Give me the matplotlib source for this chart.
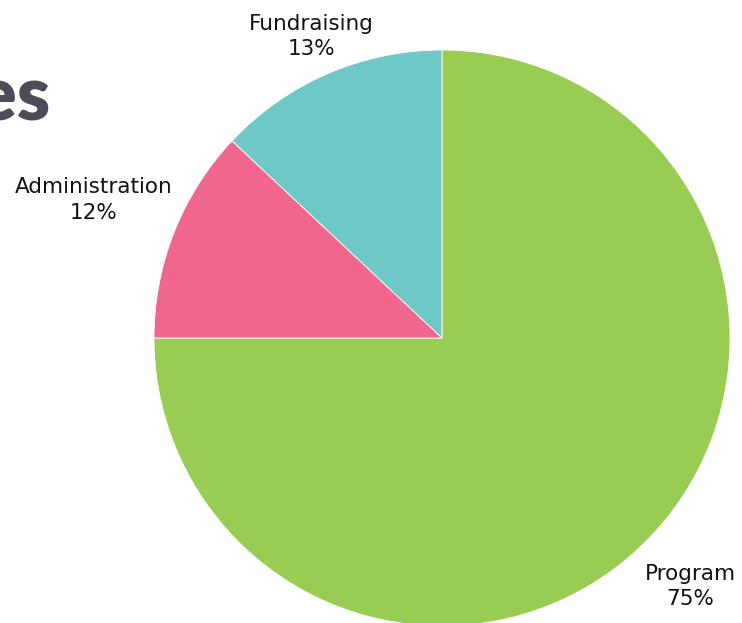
import numpy as np
import matplotlib.pyplot as plt

categories = ['Program', 'Administration', 'Fundraising']
shares = [75, 12, 13]
colors = ['#99cc52', '#f0668d', '#6ec8c5']
label_dist = [1.22, 1.30, 1.14]

fig = plt.figure(figsize=(7.42, 6.23), dpi=100)
ax = fig.add_axes([154 / 742, -3 / 623, 576 / 742, 576 / 623])

wedges, _ = ax.pie(shares, colors=colors, startangle=90, counterclock=False,
                   radius=1, wedgeprops=dict(edgecolor='white', linewidth=0.6))
ax.set_xlim(-1, 1)
ax.set_ylim(-1, 1)
ax.set_aspect('equal')
ax.axis('off')

for w, name, val, d in zip(wedges, categories, shares, label_dist):
    ang = np.deg2rad((w.theta1 + w.theta2) / 2)
    ax.text(d * np.cos(ang), d * np.sin(ang), '%s\n%d%%' % (name, val),
            ha='center', va='center', fontsize=15.5, color='#111111',
            linespacing=1.35, clip_on=False)

# title, cut off at the left edge like in the original
fig.text(51 / 742, 1 - 98 / 623, 'Expenses', ha='right', va='center',
         fontsize=54, fontweight='heavy', family='Lato', color='#4a4d55')

fig.savefig('out.png', dpi=100)
